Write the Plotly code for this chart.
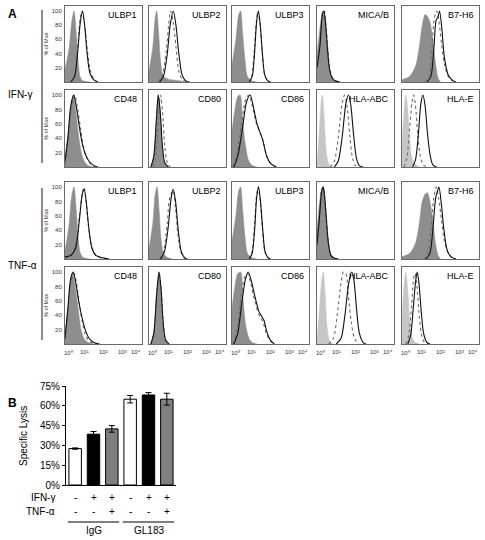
import plotly.graph_objects as go

# ---------------- data ----------------
MARKERS = ["ULBP1", "ULBP2", "ULBP3", "MICA/B", "B7-H6",
           "CD48", "CD80", "CD86", "HLA-ABC", "HLA-E"]
TREATMENTS = ["IFN-γ", "TNF-α"]
X_TICK_VALUES = [0, 1, 2, 3, 4]          # log10 decades
X_TICK_LABELS = ["10⁰", "10¹", "10²", "10³", "10⁴"]
Y_TICK_VALUES = [20, 40, 60, 80, 100]

# (log10 intensity, % of max)
ISO_IFN = [
    [(0, 18), (0.2, 45), (0.35, 85), (0.47, 100), (0.58, 70), (0.68, 30), (0.78, 8), (0.9, 2), (1.3, 0)],
    [(0, 15), (0.2, 50), (0.32, 90), (0.4, 100), (0.5, 70), (0.6, 30), (0.75, 8), (1.0, 4), (1.5, 2), (1.9, 0)],
    [(0, 25), (0.2, 60), (0.35, 95), (0.45, 100), (0.55, 70), (0.68, 30), (0.8, 8), (1.0, 2), (1.3, 0)],
    [(0, 40), (0.15, 75), (0.3, 100), (0.4, 95), (0.5, 65), (0.6, 30), (0.72, 10), (0.9, 3), (1.2, 0)],
    [(0, 3), (0.4, 8), (0.7, 22), (0.9, 50), (1.05, 80), (1.2, 95), (1.3, 93), (1.45, 85), (1.6, 60), (1.75, 25), (1.88, 5), (2.0, 0)],
    [(0, 12), (0.15, 45), (0.3, 85), (0.43, 100), (0.55, 80), (0.7, 45), (0.85, 20), (1.0, 8), (1.2, 2), (1.5, 0)],
    [(0.1, 0), (0.25, 15), (0.38, 65), (0.48, 100), (0.58, 75), (0.7, 25), (0.82, 5), (1.0, 0)],
    [(0, 50), (0.15, 80), (0.3, 98), (0.42, 100), (0.55, 65), (0.7, 30), (0.85, 10), (1.0, 3), (1.3, 0)],
    [(0, 5), (0.1, 40), (0.2, 85), (0.28, 100), (0.37, 70), (0.47, 25), (0.6, 5), (0.8, 0)],
    [(0, 30), (0.1, 75), (0.2, 100), (0.3, 80), (0.4, 40), (0.5, 15), (0.65, 5), (0.9, 0)],
]
SOLID_IFN = [
    [(0.3, 0), (0.5, 8), (0.65, 40), (0.8, 85), (0.91, 100), (1.02, 80), (1.15, 40), (1.3, 12), (1.5, 3), (1.7, 0)],
    [(0.55, 0), (0.75, 8), (0.95, 40), (1.1, 80), (1.26, 100), (1.4, 80), (1.55, 40), (1.72, 10), (1.9, 2), (2.1, 0)],
    [(0.9, 0), (1.05, 8), (1.17, 40), (1.28, 85), (1.37, 100), (1.47, 80), (1.58, 40), (1.7, 10), (1.85, 2), (2.0, 0)],
    [(0, 20), (0.15, 50), (0.28, 95), (0.36, 100), (0.45, 80), (0.55, 45), (0.65, 18), (0.8, 5), (1.0, 1), (1.2, 0)],
    [(1.3, 0), (1.5, 8), (1.65, 45), (1.78, 88), (1.85, 90), (1.95, 100), (2.07, 75), (2.2, 35), (2.4, 10), (2.6, 3), (2.8, 0)],
    [(0, 8), (0.15, 40), (0.3, 85), (0.45, 100), (0.58, 85), (0.75, 55), (0.9, 32), (1.05, 18), (1.25, 8), (1.45, 3), (1.7, 0)],
    [(0.1, 0), (0.25, 15), (0.38, 65), (0.48, 100), (0.58, 78), (0.7, 28), (0.82, 6), (1.0, 0)],
    [(0.1, 0), (0.3, 15), (0.55, 55), (0.75, 90), (0.94, 100), (1.1, 85), (1.3, 60), (1.5, 45), (1.62, 35), (1.8, 15), (2.0, 5), (2.3, 0)],
    [(0.9, 0), (1.1, 8), (1.3, 40), (1.5, 88), (1.64, 100), (1.76, 85), (1.9, 45), (2.05, 12), (2.2, 2), (2.4, 0)],
    [(0.55, 0), (0.7, 10), (0.85, 45), (0.98, 88), (1.09, 100), (1.2, 85), (1.33, 45), (1.47, 15), (1.6, 3), (1.8, 0)],
]
DOTTED_IFN = [
    [(0.3, 0), (0.5, 10), (0.65, 45), (0.78, 88), (0.88, 100), (1.0, 85), (1.15, 48), (1.3, 18), (1.5, 4), (1.7, 0)],
    [(0.5, 0), (0.7, 10), (0.9, 45), (1.02, 80), (1.12, 100), (1.25, 85), (1.4, 50), (1.55, 15), (1.75, 3), (2.0, 0)],
    [(0.88, 0), (1.03, 9), (1.15, 42), (1.27, 87), (1.35, 100), (1.45, 82), (1.57, 42), (1.69, 11), (1.84, 2), (2.0, 0)],
    [(0, 25), (0.15, 55), (0.3, 98), (0.38, 100), (0.47, 80), (0.57, 45), (0.67, 18), (0.82, 5), (1.0, 1), (1.2, 0)],
    [(1.2, 0), (1.4, 8), (1.55, 45), (1.68, 90), (1.8, 100), (1.92, 85), (2.05, 55), (2.2, 25), (2.4, 8), (2.6, 2), (2.8, 0)],
    [(0, 5), (0.15, 35), (0.32, 82), (0.5, 100), (0.63, 85), (0.8, 55), (0.95, 30), (1.1, 15), (1.3, 5), (1.5, 1), (1.7, 0)],
    [(0.2, 0), (0.35, 15), (0.48, 65), (0.6, 100), (0.7, 78), (0.82, 28), (0.95, 6), (1.1, 0)],
    [(0.05, 0), (0.25, 18), (0.5, 60), (0.72, 95), (0.88, 100), (1.05, 85), (1.25, 62), (1.45, 48), (1.6, 38), (1.78, 18), (2.0, 5), (2.3, 0)],
    [(0.7, 0), (0.9, 8), (1.1, 40), (1.3, 88), (1.43, 100), (1.56, 85), (1.7, 45), (1.85, 12), (2.0, 2), (2.2, 0)],
    [(0.1, 0), (0.25, 12), (0.4, 55), (0.52, 90), (0.6, 100), (0.7, 85), (0.82, 45), (0.95, 15), (1.1, 3), (1.3, 0)],
]
ISO_TNF = [
    [(0, 12), (0.2, 45), (0.35, 88), (0.47, 100), (0.58, 70), (0.68, 30), (0.8, 8), (0.95, 2), (1.3, 0)],
    [(0, 15), (0.2, 50), (0.32, 90), (0.42, 100), (0.52, 70), (0.62, 30), (0.75, 8), (0.9, 3), (1.2, 0)],
    [(0, 25), (0.2, 60), (0.35, 95), (0.45, 100), (0.55, 70), (0.68, 30), (0.8, 8), (1.0, 2), (1.3, 0)],
    [(0, 40), (0.12, 75), (0.25, 98), (0.33, 100), (0.42, 80), (0.52, 45), (0.62, 18), (0.75, 5), (1.0, 0)],
    [(0, 3), (0.4, 8), (0.7, 22), (0.9, 50), (1.05, 80), (1.2, 90), (1.32, 92), (1.45, 80), (1.6, 55), (1.75, 20), (1.88, 5), (2.0, 0)],
    [(0, 10), (0.15, 50), (0.3, 90), (0.4, 100), (0.52, 82), (0.68, 50), (0.82, 22), (0.98, 8), (1.2, 2), (1.5, 0)],
    [(0.1, 0), (0.25, 15), (0.4, 70), (0.52, 100), (0.62, 75), (0.73, 25), (0.85, 5), (1.0, 0)],
    [(0, 50), (0.15, 80), (0.3, 98), (0.45, 100), (0.58, 60), (0.72, 25), (0.88, 8), (1.05, 2), (1.3, 0)],
    [(0, 5), (0.12, 45), (0.24, 88), (0.33, 100), (0.42, 70), (0.52, 25), (0.65, 5), (0.85, 0)],
    [(0, 35), (0.1, 80), (0.2, 100), (0.3, 75), (0.4, 35), (0.5, 12), (0.65, 3), (0.9, 0)],
]
SOLID_TNF = [
    [(0, 3), (0.3, 5), (0.55, 15), (0.75, 55), (0.9, 90), (1.0, 97), (1.1, 80), (1.25, 40), (1.4, 15), (1.6, 5), (1.9, 2), (2.3, 0)],
    [(0.6, 0), (0.8, 10), (1.0, 45), (1.15, 85), (1.26, 97), (1.38, 80), (1.52, 40), (1.68, 10), (1.85, 2), (2.0, 0)],
    [(0.9, 0), (1.05, 8), (1.18, 42), (1.28, 85), (1.38, 100), (1.48, 80), (1.6, 40), (1.72, 10), (1.87, 2), (2.0, 0)],
    [(0, 20), (0.12, 55), (0.25, 95), (0.32, 100), (0.4, 85), (0.5, 50), (0.6, 20), (0.72, 5), (0.9, 1), (1.1, 0)],
    [(1.25, 0), (1.45, 8), (1.6, 40), (1.75, 85), (1.85, 95), (1.92, 100), (2.03, 80), (2.18, 40), (2.35, 12), (2.55, 3), (2.8, 0)],
    [(0, 8), (0.15, 50), (0.3, 92), (0.43, 100), (0.56, 85), (0.72, 58), (0.9, 35), (1.05, 20), (1.25, 8), (1.5, 2), (1.8, 0)],
    [(0.1, 0), (0.25, 15), (0.4, 70), (0.52, 100), (0.63, 75), (0.75, 25), (0.87, 5), (1.05, 0)],
    [(0.1, 0), (0.3, 15), (0.5, 55), (0.7, 90), (0.84, 100), (1.0, 88), (1.2, 65), (1.4, 45), (1.55, 38), (1.66, 33), (1.8, 18), (2.0, 5), (2.2, 0)],
    [(1.0, 0), (1.25, 8), (1.45, 40), (1.65, 85), (1.8, 100), (1.92, 88), (2.05, 50), (2.2, 15), (2.4, 2), (2.55, 0)],
    [(0.3, 0), (0.45, 12), (0.6, 55), (0.72, 90), (0.79, 100), (0.88, 85), (1.0, 45), (1.12, 15), (1.27, 3), (1.45, 0)],
]
DOTTED_TNF = [
    [(0, 2), (0.3, 4), (0.55, 18), (0.75, 60), (0.9, 92), (0.98, 100), (1.08, 85), (1.22, 45), (1.38, 18), (1.6, 5), (1.9, 1), (2.3, 0)],
    [(0.55, 0), (0.75, 10), (0.95, 50), (1.05, 82), (1.12, 88), (1.25, 95), (1.38, 70), (1.5, 35), (1.65, 10), (1.85, 1), (2.0, 0)],
    [(0.88, 0), (1.03, 9), (1.16, 44), (1.27, 87), (1.36, 100), (1.46, 82), (1.58, 42), (1.7, 11), (1.85, 2), (2.0, 0)],
    [(0, 22), (0.12, 58), (0.25, 97), (0.33, 100), (0.41, 84), (0.51, 48), (0.61, 19), (0.73, 5), (0.9, 1), (1.1, 0)],
    [(1.15, 0), (1.35, 8), (1.5, 40), (1.65, 85), (1.78, 100), (1.9, 85), (2.05, 55), (2.2, 25), (2.4, 8), (2.6, 2), (2.8, 0)],
    [(0, 6), (0.15, 45), (0.32, 88), (0.48, 98), (0.6, 85), (0.75, 55), (0.9, 30), (1.05, 14), (1.25, 4), (1.5, 1), (1.7, 0)],
    [(0.1, 0), (0.26, 15), (0.41, 70), (0.53, 98), (0.64, 74), (0.76, 24), (0.88, 5), (1.05, 0)],
    [(0.05, 0), (0.25, 18), (0.45, 60), (0.65, 92), (0.8, 98), (0.97, 85), (1.18, 60), (1.38, 42), (1.52, 35), (1.62, 30), (1.78, 15), (2.0, 4), (2.2, 0)],
    [(0.6, 0), (0.85, 8), (1.05, 40), (1.25, 85), (1.37, 100), (1.5, 98), (1.62, 70), (1.78, 30), (1.95, 8), (2.15, 0)],
    [(0.2, 0), (0.35, 12), (0.5, 55), (0.6, 90), (0.67, 98), (0.76, 85), (0.88, 45), (1.0, 15), (1.15, 3), (1.35, 0)],
]

# Panel B
BAR_GROUPS = ["IgG", "GL183"]
BAR_IFN = ["-", "+", "+", "-", "+", "+"]
BAR_TNF = ["-", "-", "+", "-", "-", "+"]
BAR_VALUES = [27.6, 38.5, 42.5, 65.0, 68.2, 65.0]
BAR_ERRORS = [0.5, 2.0, 2.5, 2.8, 1.8, 4.5]
BAR_Y_TICKS = [0, 15, 30, 45, 60, 75]

# ---------------- layout helpers ----------------
W, H = 485, 540
FONT = "Liberation Sans, Arial, sans-serif"
COLS = [(65, 142), (149, 226), (232, 309), (317, 394), (402, 479)]
ROWS = [(6, 82), (90, 167), (182, 259), (267, 344)]
LIGHT_FILL = {"HLA-ABC", "HLA-E"}


def px(x):
    return x / W


def py(y):
    return 1 - y / H


fig = go.Figure()
layout = dict(width=W, height=H, autosize=False, margin=dict(l=0, r=0, t=0, b=0, pad=0),
              paper_bgcolor="white", plot_bgcolor="white", showlegend=False,
              font=dict(family=FONT, color="black"))
annotations = []
shapes = []

iso_all = [ISO_IFN, ISO_TNF]
solid_all = [SOLID_IFN, SOLID_TNF]
dotted_all = [DOTTED_IFN, DOTTED_TNF]

n = 0
for t in range(2):
    for k, marker in enumerate(MARKERS):
        n += 1
        r = t * 2 + k // 5
        c = k % 5
        xa = "x" if n == 1 else f"x{n}"
        ya = "y" if n == 1 else f"y{n}"
        xkey = "xaxis" if n == 1 else f"xaxis{n}"
        ykey = "yaxis" if n == 1 else f"yaxis{n}"
        x0, x1 = COLS[c]
        y0, y1 = ROWS[r]
        light = marker in LIGHT_FILL
        fillc = "#c6c6c6" if light else "#8e8e8e"
        for curve, kind in ((iso_all[t][k], "iso"), (dotted_all[t][k], "dot"), (solid_all[t][k], "solid")):
            xs = [p[0] for p in curve]
            ys = [p[1] for p in curve]
            if kind == "iso":
                fig.add_trace(go.Scatter(x=xs, y=ys, xaxis=xa, yaxis=ya, mode="lines",
                                         line=dict(width=0.5, color=fillc, shape="spline", smoothing=0.8),
                                         fill="tozeroy", fillcolor=fillc, hoverinfo="skip"))
            elif kind == "dot":
                fig.add_trace(go.Scatter(x=xs, y=ys, xaxis=xa, yaxis=ya, mode="lines",
                                         line=dict(width=1.1, color="#6a6a6a", dash="dot",
                                                   shape="spline", smoothing=0.8), hoverinfo="skip"))
            else:
                fig.add_trace(go.Scatter(x=xs, y=ys, xaxis=xa, yaxis=ya, mode="lines",
                                         line=dict(width=1.1, color="#111111",
                                                   shape="spline", smoothing=0.8), hoverinfo="skip"))
        bottom = (r == 3)
        layout[xkey] = dict(domain=[px(x0), px(x1)], anchor=ya, range=[0, 4],
                            showgrid=False, zeroline=False, showline=True, mirror=True,
                            linecolor="#6a6a6a", linewidth=1, automargin=False,
                            tickvals=X_TICK_VALUES, showticklabels=False, ticks="",
                            fixedrange=True)
        first = (c == 0)
        layout[ykey] = dict(domain=[py(y1), py(y0)], anchor=xa, range=[0, 107],
                            showgrid=False, zeroline=False, showline=True, mirror=True,
                            linecolor="#6a6a6a", linewidth=1, automargin=False,
                            tickvals=Y_TICK_VALUES, showticklabels=first, ticks="",
                            tickfont=dict(size=6, color="#333"), ticklabelstandoff=1,
                            fixedrange=True)
        if first:
            layout[ykey]["title"] = dict(text="% of Max", font=dict(size=5.5, color="#333"), standoff=2)
        if bottom:
            span = x1 - x0
            for j, (tv, tl) in enumerate(zip(X_TICK_VALUES, X_TICK_LABELS)):
                xpix = x0 + span * (tv - X_TICK_VALUES[0]) / (X_TICK_VALUES[-1] - X_TICK_VALUES[0])
                anchor = "center"
                if j == 0:
                    anchor, xpix = "left", xpix - 3
                elif j == len(X_TICK_VALUES) - 1:
                    anchor, xpix = "right", xpix + 1
                annotations.append(dict(text=tl, xref="paper", yref="paper", x=px(xpix), y=py(352),
                                        xanchor=anchor, yanchor="middle", showarrow=False,
                                        font=dict(size=6, color="#333")))
        annotations.append(dict(text=marker, xref="paper", yref="paper", x=px(x1 - 3), y=py(y0 + 2),
                                xanchor="right", yanchor="top", showarrow=False,
                                font=dict(size=9, color="black")))

# treatment labels and brackets
for t, (ya_, yb_) in enumerate([(10, 163), (188, 340)]):
    shapes.append(dict(type="line", xref="paper", yref="paper", x0=px(42), x1=px(42),
                       y0=py(ya_), y1=py(yb_), line=dict(color="#666", width=1.5)))
    annotations.append(dict(text=TREATMENTS[t], xref="paper", yref="paper", x=px(6),
                            y=py((ya_ + yb_) / 2 + 8 if t == 0 else (ya_ + yb_) / 2 + 1),
                            xanchor="left", yanchor="middle", showarrow=False,
                            font=dict(size=10, color="black")))
annotations.append(dict(text="<b>A</b>", xref="paper", yref="paper", x=px(6), y=py(14),
                        xanchor="left", yanchor="middle", showarrow=False, font=dict(size=12)))
annotations.append(dict(text="<b>B</b>", xref="paper", yref="paper", x=px(6), y=py(403),
                        xanchor="left", yanchor="middle", showarrow=False, font=dict(size=12)))

# ---------------- panel B bar chart ----------------
nb = 21
bar_cats = [f"c{i}" for i in range(len(BAR_VALUES))]
bar_fill = ["white", "black", "#7f7f7f", "white", "black", "#7f7f7f"]
fig.add_trace(go.Bar(x=bar_cats, y=BAR_VALUES, xaxis=f"x{nb}", yaxis=f"y{nb}",
                     marker=dict(color=bar_fill, line=dict(color="black", width=1)),
                     error_y=dict(type="data", array=BAR_ERRORS, color="black",
                                  thickness=1, width=3),
                     width=0.68, hoverinfo="skip"))
layout[f"xaxis{nb}"] = dict(domain=[px(66), px(176)], anchor=f"y{nb}", type="category",
                            range=[-0.5, 5.5], showline=True, linecolor="black", linewidth=1,
                            showticklabels=False, ticks="", showgrid=False, fixedrange=True,
                            automargin=False)
layout[f"yaxis{nb}"] = dict(domain=[py(485), py(386)], anchor=f"x{nb}", range=[0, 75],
                            tickvals=BAR_Y_TICKS, ticktext=[f"{v}%" for v in BAR_Y_TICKS],
                            showline=True, linecolor="black", linewidth=1, ticks="outside",
                            ticklen=3, tickcolor="black", showgrid=False, zeroline=False,
                            tickfont=dict(size=10), fixedrange=True, automargin=False)
annotations.append(dict(text="Specific Lysis", xref="paper", yref="paper", x=px(23), y=py(436),
                        textangle=-90, showarrow=False, xanchor="center", yanchor="middle",
                        font=dict(size=10)))
for label, signs, yy in (("IFN-γ", BAR_IFN, 497), ("TNF-α", BAR_TNF, 511)):
    annotations.append(dict(text=label, xref="paper", yref="paper", x=px(57), y=py(yy),
                            xanchor="right", yanchor="middle", showarrow=False, font=dict(size=10)))
    for i, s in enumerate(signs):
        annotations.append(dict(text=s, xref=f"x{nb}", yref="paper", x=bar_cats[i], y=py(yy),
                                xanchor="center", yanchor="middle", showarrow=False,
                                font=dict(size=10)))
for g, name in enumerate(BAR_GROUPS):
    shapes.append(dict(type="line", xref=f"x{nb}", yref="paper", x0=-0.4 + 3 * g, x1=2.4 + 3 * g,
                       y0=py(522), y1=py(522), line=dict(color="black", width=1)))
    annotations.append(dict(text=name, xref=f"x{nb}", yref="paper", x=bar_cats[1 + 3 * g], y=py(530),
                            xanchor="center", yanchor="middle", showarrow=False, font=dict(size=10)))

layout["annotations"] = annotations
layout["shapes"] = shapes
fig.update_layout(**layout)
fig.write_html("out.html", config={"displayModeBar": False},
               post_script="document.documentElement.style.overflow='hidden';"
                           "document.body.style.margin='0';document.body.style.overflow='hidden';")
